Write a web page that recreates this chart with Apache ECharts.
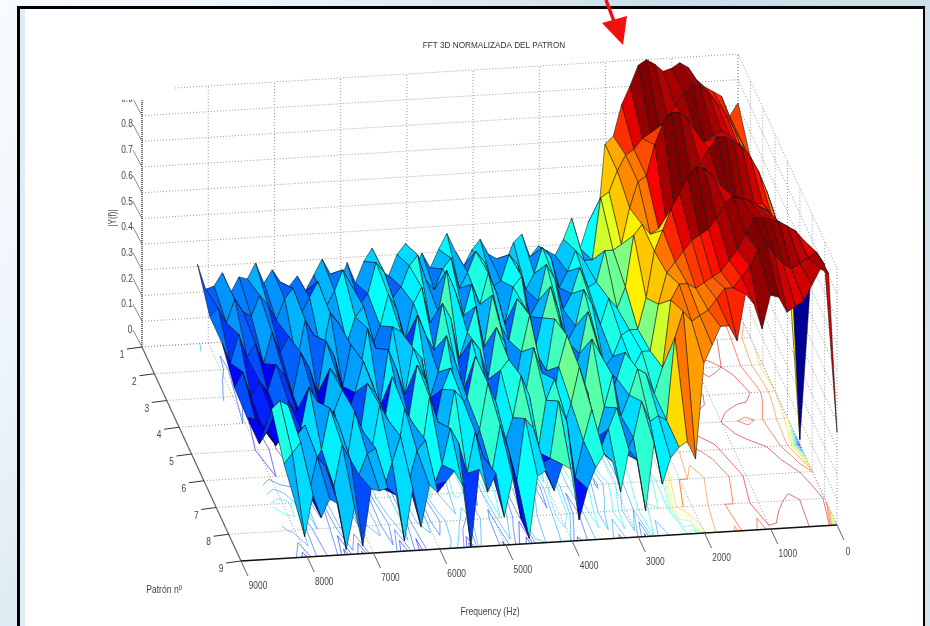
<!DOCTYPE html>
<html><head><meta charset="utf-8">
<style>html,body{margin:0;padding:0;background:#fff}#c{width:930px;height:626px}</style>
<script src="https://cdn.jsdelivr.net/npm/echarts@6/dist/echarts.min.js"></script>
</head><body><div id="c"></div>
<script>
// |Y(f)| in hundredths; index 0 is 0 Hz, step is freqStep Hz
const freqStep = 125.6;
const row1 = [81,76,84,86,88,91,96,98,96,95,98,100,98,90,83,71,68,33,38,28,40, 32,26,28,30,26,35,32,24,26,28,34,30,24,30,37,31,24,30,24,34,30,22,24,33,28,20,28,19,24,30,24,18,24,20,22,27,22,30,24,25,19,27,22,21,31];
const row2 = [70,76,82,88,92,96,99,100,97,92,88,84,82,80,76,74,68,60,58,34,34, 38,30,24,36,40,30,24,34,38,28,26,36,40,32,26,38,34,26,30,40,36,28,24,34,38,26,22,30,36,28,22,32,26,20,30,26,18,24,28,20,22,27,18,24,21];
const row3 = [64,74,80,86,90,92,90,88,92,97,100,100,96,88,76,74,64,50,48,48,36, 34,42,32,26,38,44,30,24,40,36,22,34,42,30,38,26,36,44,28,24,38,32,18,30,36,24,16,32,28,18,26,30,14,22,28,12,22,16,24,12,20,15,24,13,21];
const row4 = [68,78,86,92,96,98,100,100,96,90,84,76,70,66,66,64,68,64,44,36,40, 30,38,44,30,24,36,46,34,20,38,42,26,32,44,24,40,30,20,36,42,24,30,38,20,32,34,14,26,34,16,28,12,24,30,10,20,26,10,18,22,12,16,10,20,14];
const row5 = [64,74,80,84,84,82,84,88,92,96,99,100,96,90,84,76,68,50,38,38,36, 28,24,36,46,30,18,38,44,24,30,46,32,14,36,42,22,34,38,18,30,40,26,16,32,36,18,28,36,14,24,32,20,10,26,30,12,20,8,14,18,10,14,8,12,13];
const row6 = [2,70,82,88,92,94,96,97,98,96,90,86,84,82,78,74,70,58,40,40,34, 40,30,22,40,46,26,32,48,36,16,34,44,26,20,40,36,16,30,42,26,22,38,30,14,34,40,20,24,36,18,30,34,12,22,32,24,12,28,34,18,14,16,12,18,13];
const row7 = [84,90,94,96,98,99,100,100,94,88,84,80,78,76,74,76,76,70,44,34,42, 44,34,26,42,30,18,36,46,32,22,42,34,14,36,44,28,18,34,42,24,16,36,40,22,28,38,16,28,34,14,30,36,18,26,34,14,30,36,20,14,30,26,38,40,37];
const row8 = [91,96,94,92,90,92,96,100,98,92,88,84,84,80,76,74,72,76,66,34,36, 34,42,28,22,40,32,24,40,28,14,36,44,22,20,34,38,14,26,36,18,24,34,18,30,36,22,14,32,28,16,34,24,14,30,28,20,26,32,16,24,28,14,34,30,26];
const row9 = [36,98,100,94,88,86,84,90,91,78,88,92,74,80,80,73,66,29,36,34,30, 20,36,10,30,34,18,30,33,28,20,8,28,30,20,28,26,2,10,26,11,28,21,30,0,24,30,26,22,25,9,24,4,22,25,24,25,3,18,2,20,22,15,24,8,20];
const rows = [row1,row2,row3,row4,row5,row6,row7,row8,row9];

const freqTicks = [0,1000,2000,3000,4000,5000,6000,7000,8000,9000];
const patternTicks = [1,2,3,4,5,6,7,8,9];
const zTicks = [0,0.1,0.2,0.3,0.4,0.5,0.6,0.7,0.8,0.9];
const zGrid = [0,0.1,0.2,0.3,0.4,0.5,0.6,0.7,0.8,0.9,1];
const contourLevels = [0.05,0.12,0.2,0.28,0.36,0.44,0.52,0.6,0.68,0.76,0.84,0.92];
const FONT = '"Liberation Sans",sans-serif';

// 3D view
function P(f,p,z){
  const a=(9000-f)/9000, b=(p-1)/8;
  return [142+596*a+99*b, 347-36*a+214*b-257*z];
}
function jet(t){
  t=Math.max(0,Math.min(1,t));
  const c=x=>Math.round(255*Math.max(0,Math.min(1,x)));
  return 'rgb('+c(Math.min(4*t-1.5,-4*t+4.5))+','+c(Math.min(4*t-0.5,-4*t+3.5))+','+c(Math.min(4*t+0.5,-4*t+2.5))+')';
}
const nC=row1.length, nR=rows.length;
const F=j=>j*freqStep, Z=(i,j)=>rows[i][j]/100;

const faces=[];
for(let i=0;i<nR-1;i++) for(let j=0;j<nC-1;j++) faces.push([i,j]);

const segs=[];
contourLevels.forEach(L=>{
  for(let i=0;i<nR-1;i++) for(let j=0;j<nC-1;j++){
    const c=[[i,j],[i,j+1],[i+1,j+1],[i+1,j]], pts=[];
    for(let k=0;k<4;k++){
      const A=c[k],B=c[(k+1)%4],za=Z(A[0],A[1]),zb=Z(B[0],B[1]);
      if((za<L)!==(zb<L)){
        const t=(L-za)/(zb-za);
        pts.push([F(A[1]+(B[1]-A[1])*t),A[0]+1+(B[0]-A[0])*t]);
      }
    }
    if(pts.length>=2) segs.push([pts[0][0],pts[0][1],pts[1][0],pts[1][1],L]);
    if(pts.length===4) segs.push([pts[2][0],pts[2][1],pts[3][0],pts[3][1],L]);
  }
});

const grid=[];
zGrid.forEach(z=>{grid.push([9000,1,z,0,1,z]);grid.push([0,1,z,0,9,z]);});
freqTicks.forEach(f=>{grid.push([f,1,0,f,1,1]);grid.push([f,1,0,f,9,0]);});
patternTicks.forEach(p=>{grid.push([9000,p,0,0,p,0]);grid.push([0,p,0,0,p,1]);});

const base={type:'custom',coordinateSystem:'cartesian2d',silent:true,clip:false,encode:{x:[],y:[]},animation:false};
function lineSeries(name,data,styleFn,z){
  return Object.assign({},base,{name,z,data,
    renderItem:(prm,api)=>{
      const d=data[prm.dataIndex];
      const a=api.coord(P(d[0],d[1],d[2])), b=api.coord(P(d[3],d[4],d[5]));
      return {type:'line',shape:{x1:a[0],y1:a[1],x2:b[0],y2:b[1]},style:styleFn(d)};
    }});
}
const axisLines=[[9000,1,0,9000,1,0.96,'#333',1.3,[1,1]],[9000,1,0,9000,9,0,'#666',1.2,null],[9000,9,0,0,9,0,'#111',1.5,null]];
const tickData=[...zTicks.map(z=>[9000,1,z,-9,-17,'#8a8a8a']),...patternTicks.map(p=>[9000,p,0,-15,2,'#333']),...freqTicks.map(f=>[f,9,0,7,15,'#666'])];
const labels=[];
zTicks.forEach(z=>labels.push([String(z),9000,1,z,z===0?-12:-15,-17]));
patternTicks.forEach(p=>labels.push([String(p),9000,p,0,-20,8]));
freqTicks.forEach(f=>labels.push([String(f),f,9,0,f===0?11:17,f===0?27:25]));

const series=[
 lineSeries('grid',grid,()=>({stroke:'#999',lineWidth:1,lineDash:[1,2]}),1),
 Object.assign({},base,{name:'contour',z:2,data:segs,
  renderItem:(prm,api)=>{
    const d=segs[prm.dataIndex];
    const a=api.coord(P(d[0],d[1],0)), b=api.coord(P(d[2],d[3],0));
    return {type:'line',shape:{x1:a[0],y1:a[1],x2:b[0],y2:b[1]},style:{stroke:jet(d[4]),lineWidth:1,opacity:0.55}};
  }}),
 Object.assign({},base,{name:'|Y(f)|',z:3,data:faces,
  renderItem:(prm,api)=>{
    const [i,j]=faces[prm.dataIndex];
    const pts=[[i,j],[i,j+1],[i+1,j+1],[i+1,j]].map(q=>api.coord(P(F(q[1]),q[0]+1,Z(q[0],q[1]))));
    return {type:'polygon',shape:{points:pts},style:{fill:jet(Z(i,j)),stroke:'rgba(10,10,10,0.75)',lineWidth:0.7}};
  }}),
 Object.assign({},base,{name:'axes',z:4,data:axisLines,
  renderItem:(prm,api)=>{
    const d=axisLines[prm.dataIndex];
    const a=api.coord(P(d[0],d[1],d[2])), b=api.coord(P(d[3],d[4],d[5]));
    return {type:'line',shape:{x1:a[0],y1:a[1],x2:b[0],y2:b[1]},style:{stroke:d[6],lineWidth:d[7],lineDash:d[8]}};
  }}),
 Object.assign({},base,{name:'ticks',z:4,data:tickData,
  renderItem:(prm,api)=>{
    const r=tickData[prm.dataIndex], a=api.coord(P(r[0],r[1],r[2]));
    return {type:'line',shape:{x1:a[0],y1:a[1],x2:a[0]+r[3],y2:a[1]+r[4]},style:{stroke:r[5],lineWidth:1}};
  }}),
 Object.assign({},base,{name:'labels',z:5,data:labels,
  renderItem:(prm,api)=>{
    const d=labels[prm.dataIndex], a=api.coord(P(d[1],d[2],d[3]));
    return {type:'text',x:a[0]+d[4],y:a[1]+d[5],scaleX:0.76,style:{text:d[0],font:'11px '+FONT,fill:'#444',align:'center',verticalAlign:'middle'}};
  }})
];

const chart=echarts.init(document.getElementById('c'),null,{renderer:'canvas'});
const axisText=(text,x,y,extra)=>Object.assign({type:'text',z:51,x,y,scaleX:0.78,style:{text,font:'11px '+FONT,fill:'#444',align:'center',verticalAlign:'middle'}},extra||{});
chart.setOption({
 animation:false,
 backgroundColor:'#fff',
 title:{text:'FFT 3D NORMALIZADA DEL PATRON',left:489,top:37,textAlign:'center',textStyle:{fontFamily:FONT,fontSize:8.2,fontWeight:'normal',color:'#333'}},
 grid:{left:0,right:0,top:0,bottom:0},
 xAxis:{type:'value',min:0,max:930,show:false},
 yAxis:{type:'value',min:0,max:626,inverse:true,show:false},
 graphic:[
  {type:'rect',z:-10,shape:{x:0,y:0,width:930,height:626},style:{fill:new echarts.graphic.LinearGradient(0,0,1,1,[{offset:0,color:'#f8fbff'},{offset:0.18,color:'#eef5fb'},{offset:0.5,color:'#c9deea'},{offset:1,color:'#d2e4ee'}])}},
  {type:'rect',z:-9,shape:{x:17,y:6,width:908,height:630},style:{fill:'#000'}},
  {type:'rect',z:-8,shape:{x:20,y:9,width:903,height:620},style:{fill:'#fff'}},
  {type:'rect',z:-7,shape:{x:20,y:9,width:5,height:620},style:{fill:'#d6e7f2',opacity:0.8}},
  {type:'rect',z:50,shape:{x:100,y:60,width:75,height:39.5},style:{fill:'#fff'}},
  {type:'text',z:51,x:113,y:218,rotation:Math.PI/2,scaleX:0.8,style:{text:'|Y(f)|',font:'10px '+FONT,fill:'#444',align:'center',verticalAlign:'middle'}},
  axisText('Patrón nº',164,590),
  axisText('Frequency (Hz)',490,612),
  {type:'line',z:52,shape:{x1:606,y1:0,x2:615,y2:24},style:{stroke:'#ee1111',lineWidth:3.5}},
  {type:'polygon',z:52,shape:{points:[[602,23],[627,16],[623,45]]},style:{fill:'#f01010'}}
 ],
 series
});
</script></body></html>
